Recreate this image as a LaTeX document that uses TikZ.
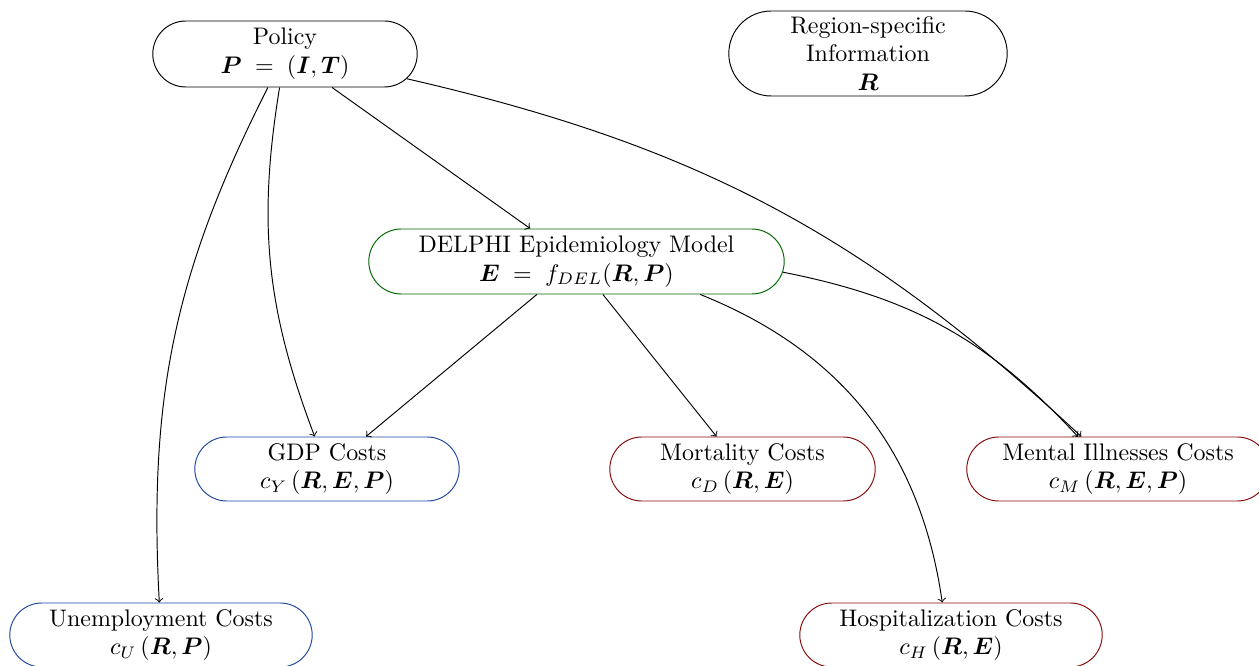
\documentclass[tikz,border=0pt]{standalone}
\usepackage{amsmath,bm}
\usetikzlibrary{shapes.misc}
\newcommand\pxu{0.4175pt}
\definecolor{delgreen}{RGB}{0,105,0}
\definecolor{costblue}{RGB}{30,70,160}
\definecolor{costred}{RGB}{135,10,10}
\begin{document}
\begin{tikzpicture}[x=0.4175pt,y=-0.4175pt,
  box/.style={rounded rectangle, draw, align=center, inner xsep=2pt, inner ysep=1pt,
    minimum height=64*\pxu},
  arr/.style={->}]
\useasboundingbox (0,0) rectangle (1259,666);
\node[box, minimum width=274*\pxu, minimum height=66*\pxu] (pol) at (285,54)
  {Policy\\ $\bm{P} \;=\; (\bm{I},\bm{T})$};
\node[box, minimum width=288*\pxu, minimum height=85*\pxu] (reg) at (868,53.5)
  {Region-specific\\ Information\\ $\bm{R}$};
\node[box, draw=delgreen, minimum width=425*\pxu, minimum height=65*\pxu] (del) at (576.5,261.5)
  {DELPHI Epidemiology Model\\ $\bm{E} \;=\; f_{DEL}(\bm{R},\bm{P})$};
\node[box, draw=costblue, minimum width=274*\pxu] (gdp) at (327,469)
  {GDP Costs\\ $c_Y\,(\bm{R},\bm{E},\bm{P})$};
\node[box, draw=costred, minimum width=275*\pxu] (mor) at (742.5,469)
  {Mortality Costs\\ $c_D\,(\bm{R},\bm{E})$};
\node[box, draw=costred, minimum width=312*\pxu] (men) at (1118,469)
  {Mental Illnesses Costs\\ $c_M\,(\bm{R},\bm{E},\bm{P})$};
\node[box, draw=costblue, minimum width=312*\pxu] (une) at (161,635)
  {Unemployment Costs\\ $c_U\,(\bm{R},\bm{P})$};
\node[box, draw=costred, minimum width=312*\pxu] (hos) at (951,635)
  {Hospitalization Costs\\ $c_H\,(\bm{R},\bm{E})$};
\draw[arr] (pol) -- (del);
\draw[arr] (pol) to[bend right=15] (gdp);
\draw[arr] (pol) to[bend right=15] (une);
\draw[arr] (pol) to[bend left=15] (men);
\draw[arr] (del) -- (gdp);
\draw[arr] (del) -- (mor);
\draw[arr] (del) to[bend left=30] (hos);
\draw[arr] (del) to[bend left=18] (men);
\end{tikzpicture}
\end{document}
